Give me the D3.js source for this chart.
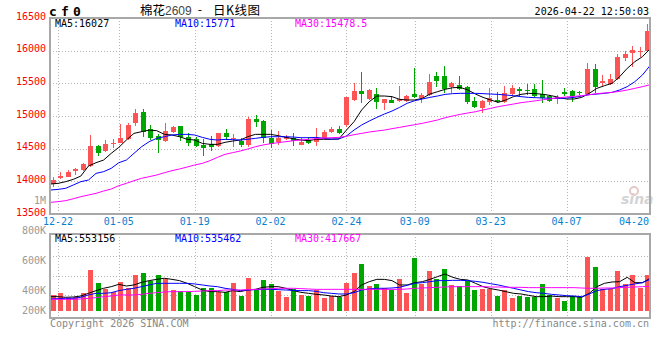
<!DOCTYPE html>
<html><head><meta charset="utf-8">
<script src="https://cdn.jsdelivr.net/npm/d3@7"></script>
<style>body{margin:0;background:#fff}svg{display:block}</style>
</head><body><svg id="c" width="660" height="360"></svg>
<script>
const dates = ["12-19","12-22","12-23","12-24","12-25","12-26","12-29","12-30","12-31",
"01-05","01-06","01-07","01-08","01-09","01-12","01-13","01-14","01-15","01-16","01-19","01-20","01-21","01-22","01-23","01-26","01-27","01-28","01-29","01-30",
"02-02","02-03","02-04","02-05","02-06","02-09","02-10","02-11","02-12","02-13","02-24","02-25","02-26","02-27",
"03-02","03-03","03-04","03-05","03-06","03-09","03-10","03-11","03-12","03-13","03-16","03-17","03-18","03-19","03-20","03-23","03-24","03-25","03-26","03-27","03-30","03-31",
"04-01","04-02","04-03","04-07","04-08","04-09","04-10","04-13","04-14","04-15","04-16","04-17","04-20","04-21","04-22"];
const open  = [13959,14046,14071,14163,14173,14234,14541,14469,14571,14592,14648,14898,15066,14796,14694,14622,14760,14847,14673,14643,14556,14571,14541,14735,14643,14622,14556,14954,14923,14668,14607,14648,14668,14561,14632,14597,14668,14760,14801,14862,15245,15383,15260,15337,15204,15245,15235,15235,15337,15270,15321,15612,15617,15449,15474,15439,15230,15128,15219,15245,15209,15337,15413,15398,15408,15336,15311,15260,15372,15382,15362,15336,15719,15500,15490,15566,15883,15959,15974,16000];
const high  = [14061,14138,14173,14209,14275,14709,14556,14632,14653,14877,14893,15107,15107,14862,14724,14888,14852,14852,14745,14673,14643,14699,14745,14796,14719,14658,14979,15015,14939,14785,14770,14709,14745,14658,14673,14811,14785,14826,14847,15296,15500,15668,15408,15423,15265,15311,15464,15321,15729,15347,15643,15668,15765,15525,15612,15459,15285,15245,15423,15362,15459,15474,15449,15490,15490,15551,15321,15321,15423,15398,15388,15816,15796,15627,15638,15949,15995,16076,16061,16408];
const low   = [13918,14030,14061,14097,14163,14214,14388,14444,14505,14582,14632,14847,14683,14632,14428,14607,14745,14622,14541,14530,14393,14469,14530,14632,14530,14530,14530,14826,14591,14505,14556,14632,14541,14551,14571,14541,14658,14745,14724,14836,15235,15204,15245,15107,15092,15194,15219,15219,15270,15194,15311,15449,15357,15347,15398,15178,15117,15051,15168,15194,15194,15311,15306,15321,15296,15204,15219,15178,15311,15209,15321,15321,15347,15464,15474,15551,15837,15745,15908,15990];
const close = [14020,14087,14138,14194,14265,14541,14439,14571,14592,14663,14862,15051,14760,14668,14633,14771,14826,14673,14592,14541,14516,14531,14735,14684,14658,14556,14954,14913,14658,14571,14668,14673,14617,14597,14581,14668,14760,14801,14735,15286,15383,15337,15398,15219,15255,15204,15255,15306,15286,15321,15515,15541,15408,15500,15413,15209,15143,15230,15270,15209,15347,15434,15388,15388,15311,15270,15234,15285,15331,15306,15347,15719,15449,15536,15566,15908,15949,16010,15995,16300];
const ma5  = [13959,13969,13995,14030,14081,14234,14285,14326,14428,14520,14632,14734,14760,14785,14775,14719,14709,14683,14643,14632,14581,14566,14566,14597,14617,14632,14683,14719,14719,14719,14699,14673,14653,14632,14622,14643,14643,14643,14648,14785,14913,15092,15219,15306,15306,15296,15255,15245,15245,15270,15336,15372,15408,15433,15438,15398,15336,15285,15245,15209,15245,15296,15331,15347,15342,15331,15311,15285,15260,15260,15285,15347,15423,15464,15500,15602,15729,15831,15908,16027];
const ma10 = [13867,13877,13893,13944,13995,14020,14122,14148,14199,14285,14326,14428,14530,14607,14658,14683,14709,14719,14719,14709,14673,14643,14632,14643,14638,14632,14643,14658,14673,14683,14683,14683,14678,14668,14668,14673,14658,14648,14648,14694,14785,14862,14923,14979,15030,15076,15132,15194,15234,15260,15285,15306,15331,15342,15347,15347,15347,15342,15336,15331,15321,15311,15296,15285,15280,15275,15270,15270,15275,15285,15306,15326,15336,15347,15362,15398,15449,15525,15627,15771];
const ma30 = [13678,13689,13704,13734,13765,13791,13816,13852,13882,13933,13969,14010,14046,14071,14097,14132,14163,14189,14219,14250,14275,14316,14367,14413,14439,14464,14495,14530,14556,14576,14592,14607,14622,14632,14643,14653,14663,14668,14673,14689,14714,14734,14755,14770,14785,14806,14826,14847,14867,14888,14913,14939,14974,15000,15025,15046,15066,15092,15117,15143,15163,15183,15204,15219,15234,15250,15265,15280,15291,15301,15311,15326,15342,15352,15362,15377,15398,15423,15449,15478.5];
const volume = [268000,308000,223000,229000,308000,696000,479000,371000,325000,491000,382000,616000,645000,508000,610000,542000,354000,337000,325000,268000,394000,394000,325000,325000,479000,257000,565000,354000,525000,457000,337000,240000,371000,268000,251000,354000,223000,251000,240000,479000,650000,799000,422000,457000,394000,354000,542000,308000,907000,457000,679000,542000,713000,439000,422000,508000,354000,371000,371000,251000,354000,211000,251000,240000,240000,457000,268000,211000,166000,251000,240000,924000,753000,371000,371000,679000,457000,610000,394000,610000];
const vma5  = [240000,240000,229000,234000,251000,297000,343000,383000,411000,451000,422000,440000,485000,514000,536000,554000,536000,514000,468000,411000,354000,326000,326000,314000,343000,326000,354000,365000,400000,411000,411000,383000,343000,314000,297000,280000,269000,251000,240000,269000,326000,440000,496000,536000,536000,514000,440000,440000,479000,496000,536000,582000,628000,571000,536000,525000,468000,411000,377000,354000,326000,297000,286000,263000,240000,240000,251000,240000,240000,240000,229000,297000,411000,468000,491000,496000,571000,479000,479000,553156];
const vma10 = [200000,206000,212000,212000,229000,269000,297000,297000,308000,343000,365000,383000,411000,440000,468000,468000,468000,468000,468000,457000,440000,422000,411000,383000,365000,343000,354000,360000,365000,365000,360000,354000,348000,343000,343000,331000,308000,297000,286000,286000,308000,354000,371000,383000,383000,388000,400000,434000,468000,479000,496000,514000,514000,519000,519000,514000,502000,485000,462000,440000,411000,383000,354000,326000,308000,297000,280000,269000,257000,251000,240000,286000,343000,365000,377000,411000,434000,457000,479000,535462];
const vma30 = [194000,194000,194000,194000,200000,212000,223000,240000,251000,269000,269000,269000,280000,297000,308000,320000,326000,326000,326000,331000,337000,343000,343000,354000,354000,354000,360000,365000,371000,377000,383000,383000,383000,377000,371000,365000,365000,365000,365000,365000,365000,365000,365000,365000,365000,365000,365000,371000,383000,388000,394000,400000,405000,411000,411000,411000,411000,411000,405000,405000,400000,400000,400000,394000,394000,394000,394000,394000,394000,394000,388000,383000,383000,388000,388000,394000,400000,405000,411000,417667];

const priceTicks = [16500,16000,15500,15000,14500,14000,13500];
const dateTicks = ["12-22","01-05","01-19","02-02","02-24","03-09","03-23","04-07","04-20"];
const volTicks = [1000000,800000,600000,400000,200000];
const volTickText = ["1M","800K","600K","400K","200K"];
const priceLegend = [["MA5",16027],["MA10",15771],["MA30","15478.5"]];
const volLegend = [["MA5",553156],["MA10",535462],["MA30",417667]];
const titleCode = "cf0";
const titleParts = ["棉花","2609","-","日K线图"];
const stamp = "2026-04-22 12:50:03";

const RED="#fd5555", GREEN="#00a600", GRID="#b4b4b4", FRAME="#a8a8a8";
const maColors=["#000000","#0000ff","#ff00ff"];
const mono="'DejaVu Sans Mono', monospace";
const cjk="'Noto Sans CJK SC', sans-serif";

const svg=d3.select("#c");
const L=50, R=650, PT=18, PB=214, VT=234, VB=318;

const xb=d3.scaleBand().domain(dates).range([50.5,650.5]).paddingInner(0.3).paddingOuter(0).align(0);
const xp=d3.scalePoint().domain(dates).range([50.5,650]);
const y=d3.scaleLinear().domain([13500,16500]).range([PB,PT]);
const yv=d3.scaleLinear().domain([0,1000000]).range([310.7,252.2]);
const yvLab=d3.scaleLinear().domain([0,1000000]).range([350.7,200.7]);

// grids
const g=svg.append("g");
g.selectAll(".hg").data(priceTicks.slice(1,-1)).join("line")
 .attr("x1",L).attr("x2",R).attr("y1",d=>Math.round(y(d))+0.5).attr("y2",d=>Math.round(y(d))+0.5)
 .attr("stroke",GRID).attr("stroke-dasharray","1,2");
g.selectAll(".vg").data(dateTicks.slice(0,-1)).join("line")
 .attr("x1",d=>Math.round(xp(d))+0.5).attr("x2",d=>Math.round(xp(d))+0.5).attr("y1",PT).attr("y2",PB)
 .attr("stroke",GRID).attr("stroke-dasharray","1,2");
g.selectAll(".vg2").data(dateTicks.slice(0,-1)).join("line")
 .attr("x1",d=>Math.round(xp(d))+0.5).attr("x2",d=>Math.round(xp(d))+0.5).attr("y1",VT).attr("y2",VB)
 .attr("stroke",GRID).attr("stroke-dasharray","1,2");
g.selectAll(".vh").data(d3.range(1,4)).join("line")
 .attr("x1",L).attr("x2",R).attr("y1",d=>Math.round(VT+2+d*19.75)+0.5).attr("y2",d=>Math.round(VT+2+d*19.75)+0.5)
 .attr("stroke",GRID).attr("stroke-dasharray","1,2");

// watermark
const wm=svg.append("g").attr("fill","#d4d4d4");
wm.append("text").attr("x",621).attr("y",204).attr("font-family","'DejaVu Sans', sans-serif")
 .attr("font-style","italic").attr("font-weight","bold").attr("font-size",14).text("sina");
wm.append("circle").attr("cx",634).attr("cy",191).attr("r",4).attr("fill","none").attr("stroke","#e6c8c8").attr("stroke-width",2);

// candles
const cg=svg.append("g");
const idx=d3.range(dates.length);
const bw=Math.round(xb.bandwidth());
cg.selectAll(".wick").data(idx).join("line")
 .attr("x1",i=>Math.round(xb(dates[i]))+Math.floor(bw/2)+0.5).attr("x2",i=>Math.round(xb(dates[i]))+Math.floor(bw/2)+0.5)
 .attr("y1",i=>Math.max(PT,y(high[i]))).attr("y2",i=>y(low[i]))
 .attr("stroke",i=>close[i]>=open[i]?RED:GREEN).attr("shape-rendering","crispEdges");
cg.selectAll(".body").data(idx).join("rect")
 .attr("x",i=>Math.round(xb(dates[i]))).attr("width",bw)
 .attr("y",i=>Math.max(PT,y(Math.max(open[i],close[i])))).attr("height",i=>Math.max(1,Math.abs(y(open[i])-y(close[i]))))
 .attr("fill",i=>close[i]>=open[i]?RED:GREEN).attr("shape-rendering","crispEdges");

// price MA lines
const line=d3.line().x((d,i)=>xp(dates[i])).y(d=>y(d));
[ma5,ma10,ma30].forEach((s,j)=>svg.append("path").attr("d",line(s)).attr("fill","none").attr("stroke",maColors[j]).attr("stroke-width",1));

// volume bars
svg.append("g").selectAll("rect").data(idx).join("rect")
 .attr("x",i=>Math.round(xb(dates[i]))).attr("width",bw)
 .attr("y",i=>yv(volume[i])).attr("height",i=>yv(0)-yv(volume[i]))
 .attr("fill",i=>close[i]>=open[i]?RED:GREEN).attr("shape-rendering","crispEdges");
const vline=d3.line().x((d,i)=>xp(dates[i])).y(d=>yv(d));
[vma5,vma10,vma30].forEach((s,j)=>svg.append("path").attr("d",vline(s)).attr("fill","none").attr("stroke",maColors[j]).attr("stroke-width",1));

// frames
svg.append("rect").attr("x",L).attr("y",PT).attr("width",R-L).attr("height",PB-PT).attr("fill","none").attr("stroke",FRAME).attr("stroke-width",2);
svg.append("rect").attr("x",L).attr("y",VT).attr("width",R-L).attr("height",VB-VT).attr("fill","none").attr("stroke",FRAME).attr("stroke-width",2);

// price axis labels
svg.append("g").selectAll("text").data(priceTicks).join("text")
 .attr("x",46).attr("y",d=>y(d)+1.5).attr("text-anchor","end").attr("font-family",mono).attr("font-size",10)
 .attr("fill","#ff0000").text(d=>d);
// volume axis labels
svg.append("g").selectAll("text").data(volTicks).join("text")
 .attr("x",46).attr("y",d=>Math.min(310,yvLab(d))+3.5).attr("text-anchor","end").attr("font-family",mono).attr("font-size",10)
 .attr("fill","#999999").text((d,i)=>volTickText[i]);
// date labels
svg.append("g").selectAll("text").data(dateTicks).join("text")
 .attr("x",d=>Math.min(xp(d),634)).attr("y",225).attr("text-anchor","middle").attr("font-family",mono).attr("font-size",10)
 .attr("fill","#0a80d0").text(d=>d);

// legends
const legX=[55,175,295];
svg.append("g").selectAll("text").data(priceLegend).join("text")
 .attr("x",(d,i)=>legX[i]).attr("y",27).attr("font-family",mono).attr("font-size",10)
 .attr("fill",(d,i)=>maColors[i]).text(d=>d[0]+":"+d[1]);
svg.append("g").selectAll("text").data(volLegend).join("text")
 .attr("x",(d,i)=>legX[i]).attr("y",242).attr("font-family",mono).attr("font-size",10)
 .attr("fill",(d,i)=>maColors[i]).text(d=>d[0]+":"+d[1]);

// header
svg.append("text").attr("x",49).attr("y",16).attr("font-family",mono).attr("font-weight","bold")
 .attr("font-size",13).attr("letter-spacing",4.2).attr("fill","#000").text(titleCode);
const th=svg.append("g").attr("font-size",12.5);
th.append("text").attr("x",140).attr("y",15).attr("font-family",cjk).attr("fill","#000").text(titleParts[0]);
th.append("text").attr("x",165).attr("y",15).attr("font-family","'Liberation Sans', Arial, sans-serif").attr("font-size",12).attr("fill","#444").text(titleParts[1]);
th.append("text").attr("x",200).attr("y",14).attr("text-anchor","middle").attr("font-family",cjk).attr("fill","#000").text(titleParts[2]);
th.append("text").attr("x",213).attr("y",15).attr("font-family",cjk).attr("fill","#000").attr("letter-spacing",0.5).text(titleParts[3]);
svg.append("text").attr("x",649).attr("y",15).attr("text-anchor","end").attr("font-family",mono)
 .attr("font-size",10).attr("fill","#000").text(stamp);
// footer
svg.append("text").attr("x",50).attr("y",327).attr("font-family",mono).attr("font-size",10).attr("fill","#888").text("Copyright 2026 SINA.COM");
svg.append("text").attr("x",649).attr("y",327).attr("text-anchor","end").attr("font-family",mono).attr("font-size",10).attr("fill","#888").text("http://finance.sina.com.cn");
</script></body></html>
